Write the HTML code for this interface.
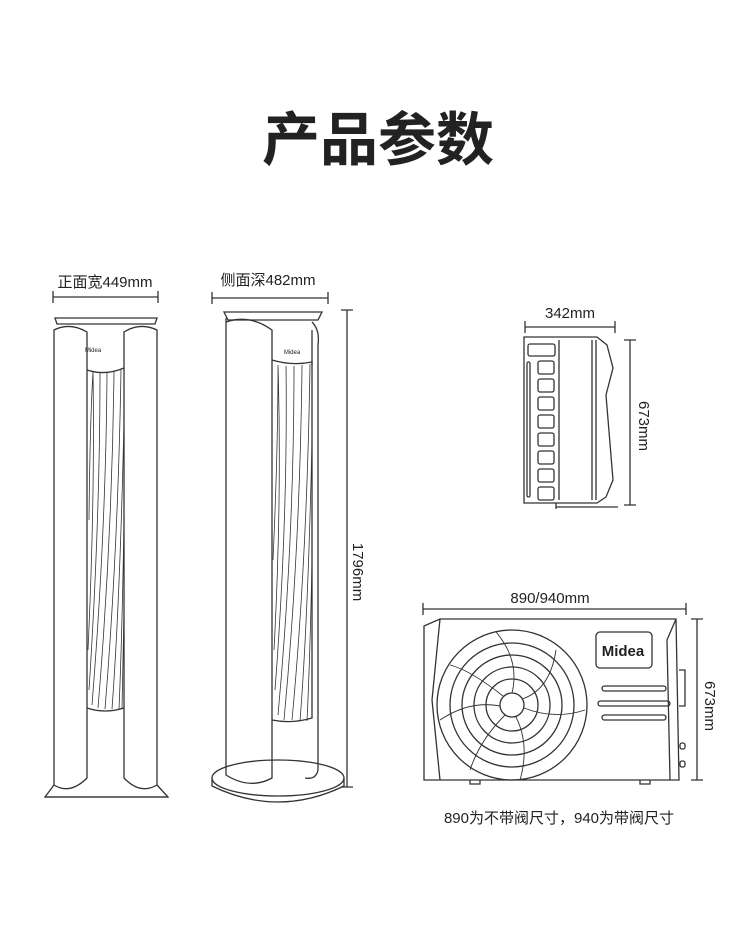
<!DOCTYPE html>
<html><head><meta charset="utf-8"><style>
html,body{margin:0;padding:0;background:#fff;}
svg{display:block;}
text{font-family:"Liberation Sans","Noto Sans CJK SC",sans-serif;fill:#222;}
</style></head><body>
<svg width="750" height="925" viewBox="0 0 750 925" xmlns="http://www.w3.org/2000/svg">
<text x="378" y="160" text-anchor="middle" font-size="58" font-weight="bold" style="font-family:'Noto Sans CJK SC',sans-serif" fill="#111">产品参数</text>

<g stroke="#333" stroke-width="1.3" fill="none">
<path d="M53 297H158M53 291V303M158 291V303"/>
<path d="M55 318H157L155 324H57Z"/>
<path d="M54 785V330Q70 322 87 332V778Q70 795 54 785Z"/>
<path d="M157 785V330Q140 322 124 332V778Q140 795 157 785Z"/>
<path d="M87 370Q105 376 124 368"/>
<path d="M87 708Q105 714 124 708"/>
<path d="M54 785L45 797H168L157 785"/>
<path d="M45 797H168"/>
<g stroke-width="0.8">
<path d="M93 372Q95 500 88 650M100 373Q100 520 89 690M107 373Q106 530 92 705M114 372Q112 540 98 708M121 370Q118 550 105 709M124 420Q120 600 112 709M124 520Q122 640 119 709M124 610Q123 670 122 709M89 520Q90 420 93 372"/>
</g>

<path d="M212 298H328M212 292V304M328 292V304"/>
<path d="M347 310V787M341 310H353M341 787H353"/>
<path d="M224 312H322L318 320H228Z"/>
<path d="M226 318V775Q250 790 272 778V330Q250 314 226 322"/>
<path d="M312 322Q320 330 318 345V770Q316 780 305 778"/>
<path d="M272 360Q292 366 312 362V718Q292 724 272 720"/>
<path d="M312 330V365"/>
<ellipse cx="278" cy="778" rx="66" ry="18"/>
<path d="M212 778V786Q278 818 344 786V778"/>
<g stroke-width="0.8">
<path d="M278 365Q282 500 274 650M286 366Q288 520 275 690M294 366Q294 540 278 715M302 365Q300 550 284 720M310 364Q307 560 292 720M312 440Q308 620 300 721M312 560Q310 660 307 721M273 560Q278 450 278 365"/>
</g>

<path d="M525 327H615M525 321V333M615 321V333"/>
<path d="M630 340V505M624 340H636M624 505H636"/>
<path d="M524 337H597L607 345L613 368L606 395L613 480L606 497L597 503H524Z"/>
<path d="M559 340V500M592 340V500M596 340V500"/>
<rect x="528" y="344" width="27" height="12" rx="2"/>
<rect x="527" y="362" width="3" height="135" rx="1.5"/>
<g>
<rect x="538" y="361" width="16" height="13" rx="2"/>
<rect x="538" y="379" width="16" height="13" rx="2"/>
<rect x="538" y="397" width="16" height="13" rx="2"/>
<rect x="538" y="415" width="16" height="13" rx="2"/>
<rect x="538" y="433" width="16" height="13" rx="2"/>
<rect x="538" y="451" width="16" height="13" rx="2"/>
<rect x="538" y="469" width="16" height="13" rx="2"/>
<rect x="538" y="487" width="16" height="13" rx="2"/>
</g>
<path d="M556 503V509M556 507H618"/>

<path d="M423 609H686M423 603V615M686 603V615"/>
<path d="M697 619V780M691 619H703M691 780H703"/>
<path d="M424 626L440 619H676L679 780H424Z"/>
<path d="M440 619L432 700L440 780M676 619L667 640L670 780"/>
<path d="M679 670H685V706H679"/>
<path d="M470 780V784H480V780M640 780V784H650V780"/>
<rect x="596" y="632" width="56" height="36" rx="4"/>
<rect x="602" y="686" width="64" height="5" rx="2.5"/>
<rect x="598" y="701" width="72" height="5" rx="2.5"/>
<rect x="602" y="715" width="64" height="5" rx="2.5"/>
<rect x="680" y="743" width="5" height="6" rx="2"/>
<rect x="680" y="761" width="5" height="6" rx="2"/>
<circle cx="512" cy="705" r="75"/>
<circle cx="512" cy="705" r="62"/>
<circle cx="512" cy="705" r="50"/>
<circle cx="512" cy="705" r="38"/>
<circle cx="512" cy="705" r="26"/>
<circle cx="512" cy="705" r="12"/>
<g stroke-width="0.9">
<path d="M512 693Q520 660 496 632"/>
<path d="M522 699Q550 690 556 650"/>
<path d="M524 708Q555 720 585 710"/>
<path d="M516 717Q530 745 520 780"/>
<path d="M505 715Q480 740 470 770"/>
<path d="M500 706Q470 700 440 720"/>
<path d="M503 696Q470 670 450 665"/>
</g>
</g>
<text x="623" y="656" text-anchor="middle" font-size="15" font-weight="bold" fill="#333">Midea</text>
<text x="93" y="352" text-anchor="middle" font-size="6" fill="#555">Midea</text>
<text x="292" y="354" text-anchor="middle" font-size="6" fill="#555">Midea</text>

<text x="105" y="287" text-anchor="middle" font-size="15">正面宽449mm</text>
<text x="268" y="285" text-anchor="middle" font-size="15">侧面深482mm</text>
<text x="570" y="318" text-anchor="middle" font-size="15">342mm</text>
<text x="550" y="603" text-anchor="middle" font-size="15">890/940mm</text>
<text transform="translate(353,572) rotate(90)" text-anchor="middle" font-size="15">1796mm</text>
<text transform="translate(639,426) rotate(90)" text-anchor="middle" font-size="15">673mm</text>
<text transform="translate(705,706) rotate(90)" text-anchor="middle" font-size="15">673mm</text>
<text x="559" y="823" text-anchor="middle" font-size="15">890为不带阀尺寸，940为带阀尺寸</text>
</svg>
</body></html>
